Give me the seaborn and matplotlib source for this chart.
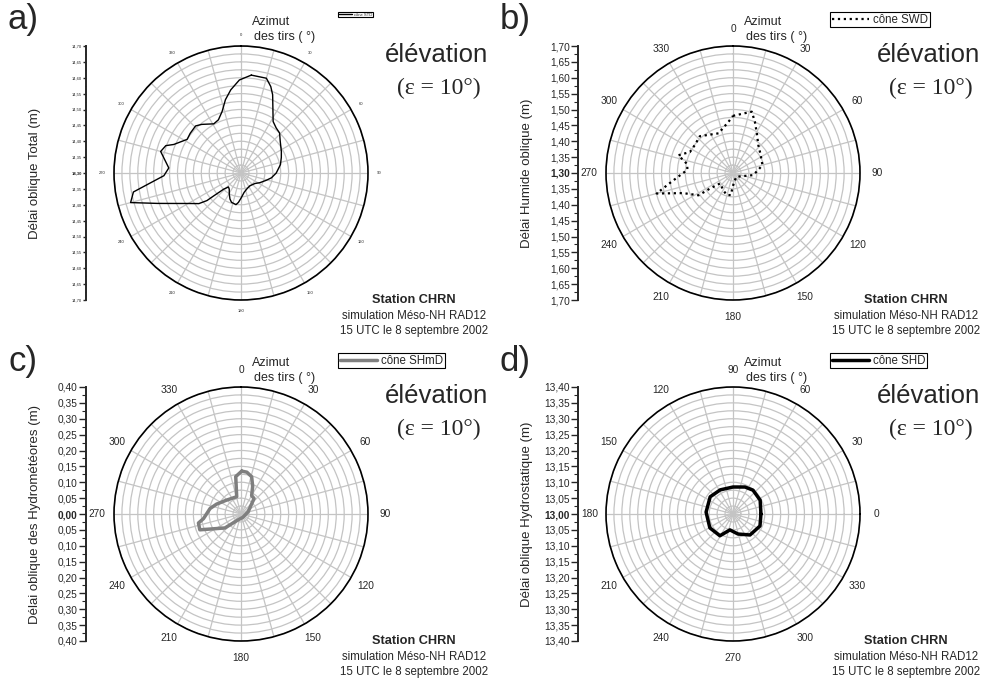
import numpy as np
import matplotlib
matplotlib.use("Agg")
import matplotlib.pyplot as plt
from matplotlib.ticker import FixedLocator
import seaborn as sns

az_total = [6, 15, 19, 22, 32, 38, 44, 51, 62, 69, 78, 90, 99, 106, 117, 127, 145, 161, 171, 179,
            185, 189, 198, 203, 209, 216, 222, 227, 230, 231, 234, 240, 245, 250, 255, 260, 263, 268, 274, 285,
            290, 293, 302, 308, 316, 321, 331, 337, 343, 348, 353, 359]
delay_total = [14.610, 14.609, 14.588, 14.566, 14.491, 14.480, 14.475, 14.459, 14.444, 14.436,
               14.427, 14.411, 14.397, 14.383, 14.367, 14.355, 14.349, 14.354, 14.362, 14.377,
               14.393, 14.401, 14.397, 14.389, 14.376, 14.363, 14.359, 14.375, 14.412, 14.438,
               14.464, 14.492, 14.527, 14.580, 14.660, 14.644, 14.597, 14.543, 14.528, 14.562,
               14.552, 14.530, 14.500, 14.503, 14.506, 14.497, 14.477, 14.482, 14.503, 14.536,
               14.564, 14.593]

az_swd = [0, 17, 23, 31, 42, 57, 75, 83, 96, 124, 135, 173, 186, 196, 210, 231, 236, 237, 248, 252,
          255, 262, 274, 281, 288, 296, 306, 318, 340, 355]
delay_swd = [1.480, 1.502, 1.476, 1.446, 1.419, 1.404, 1.396, 1.380, 1.364, 1.320,
             1.316, 1.328, 1.370, 1.372, 1.362, 1.352, 1.387, 1.429, 1.469, 1.507,
             1.549, 1.495, 1.444, 1.447, 1.481, 1.451, 1.449, 1.456, 1.433, 1.462]

az_shmd = [1, 8, 16, 23, 30, 40, 72, 150, 207, 229, 249, 258, 263, 280, 292, 314, 346, 352]
delay_shmd = [0.135, 0.133, 0.122, 0.094, 0.067, 0.064, 0.024, 0.012, 0.021, 0.067,
              0.139, 0.137, 0.119, 0.099, 0.083, 0.063, 0.056, 0.119]

az_shd = [0, 27, 50, 66, 90, 118, 143, 176, 211, 239, 259, 284, 309, 336]
delay_shd = [13.088, 13.096, 13.098, 13.093, 13.085, 13.086, 13.090, 13.085, 13.085, 13.080,
             13.051, 13.065, 13.085, 13.093]

angle_ticks = list(range(0, 360, 15))

sns.set_theme(style="ticks")
plt.rcParams['font.family'] = ['Liberation Sans', 'DejaVu Sans']

W, H = 982, 681
R = 127
fig = plt.figure(figsize=(W / 100, H / 100), dpi=100)


def ftext(x, y, s, **kw):
    fig.text(x / W, 1 - y / H, s, **kw)


def panel(cx, cy, letter, az, delay, base, ylabel, name, color, lw, ls, east=False, tiny=False):
    fs = 3 if tiny else 7.3
    ax = fig.add_axes([(cx - R) / W, 1 - (cy + R) / H, 2 * R / W, 2 * R / H], projection='polar')
    if east:
        ax.set_theta_zero_location('E')
        ax.set_theta_direction(1)
    else:
        ax.set_theta_zero_location('N')
        ax.set_theta_direction(-1)

    theta = np.deg2rad(np.append(az, az[0]))
    r = np.append(delay, delay[0])
    sns.lineplot(x=theta, y=r, sort=False, estimator=None, ax=ax,
                 color=color, lw=lw, linestyle=ls)

    ax.set_ylim(base, base + 0.40)
    ax.set_yticks(np.arange(base, base + 0.4001, 0.025))
    ax.set_yticklabels([])
    ax.set_xticks(np.deg2rad(angle_ticks))
    ax.set_xticklabels([str(a) if a % 30 == 0 else '' for a in angle_ticks], fontsize=fs)
    ax.tick_params(axis='x', direction='inout', length=1.5 if tiny else 6, width=0.8,
                   pad=0.5 if tiny else 2)
    ax.grid(True, color='#c4c4c4', lw=0.9)
    ax.spines['polar'].set_color('black')
    ax.spines['polar'].set_linewidth(1.2)
    ax.set_xlabel('')
    ax.set_ylabel('')

    leg = ax.legend([ax.lines[0]], [name], loc='upper left',
                    bbox_to_anchor=((cx + 97) / W, 1 - (cy - 161) / H),
                    bbox_transform=fig.transFigure, borderaxespad=0,
                    fontsize=3 if tiny else 8.3, fancybox=False, framealpha=1,
                    edgecolor='black', handlelength=3.2,
                    borderpad=0.15, handletextpad=0.4)
    leg.get_frame().set_linewidth(0.8)

    # mirrored radial scale on the left
    vax = fig.add_axes([(cx - 155) / W, 1 - (cy + R) / H, 0.0001, 2 * R / H])
    vax.set_ylim(-0.40, 0.40)
    major = np.round(np.arange(-0.40, 0.4001, 0.05), 3)
    vax.yaxis.set_major_locator(FixedLocator(major))
    vax.yaxis.set_minor_locator(FixedLocator(np.round(np.arange(-0.40, 0.4001, 0.025), 3)))
    labels = vax.set_yticklabels([f"{base + abs(v):.2f}".replace('.', ',') for v in major],
                                 fontsize=fs)
    labels[len(major) // 2].set_fontweight('bold')
    vax.set_xticks([])
    for s in ['top', 'right', 'bottom']:
        vax.spines[s].set_visible(False)
    vax.spines['left'].set_linewidth(1.4)
    vax.tick_params(axis='y', which='major', length=2 if tiny else 5, width=1, pad=1)
    vax.tick_params(axis='y', which='minor', length=1 if tiny else 3, width=0.8)
    vax.set_facecolor('none')

    ftext(cx - 206, cy, ylabel, rotation=90, ha='center', va='center', fontsize=9.5)
    ftext(cx - 218, cy - 153, letter, ha='center', va='center', fontsize=25)
    ftext(cx + 30, cy - 151, 'Azimut', ha='center', va='center', fontsize=9)
    ftext(cx + 13, cy - 136, 'des tirs ( °)', ha='left', va='center', fontsize=9)
    ftext(cx + 196, cy - 118, 'élévation', ha='center', va='center', fontsize=18.5)
    ftext(cx + 198, cy - 85, '(ε = 10°)', ha='center', va='center', fontsize=17,
          family=['Liberation Serif', 'DejaVu Serif'])
    ftext(cx + 173, cy + 127, 'Station CHRN', ha='center', va='center', fontsize=9.2,
          fontweight='bold')
    ftext(cx + 173, cy + 143, 'simulation Méso-NH RAD12', ha='center', va='center', fontsize=8.3)
    ftext(cx + 173, cy + 158, '15 UTC le 8 septembre 2002', ha='center', va='center', fontsize=8.3)


panel(241, 173, 'a)', az_total, delay_total, 14.30, 'Délai oblique Total (m)', 'cône STD',
      'black', 1.0, '-', tiny=True)
panel(733, 173, 'b)', az_swd, delay_swd, 1.30, 'Délai Humide oblique (m)', 'cône SWD',
      'black', 1.6, ':')
panel(241, 514, 'c)', az_shmd, delay_shmd, 0.00, 'Délai oblique des Hydrométéores (m)', 'cône SHmD',
      '#7f7f7f', 2.5, '-')
panel(733, 514, 'd)', az_shd, delay_shd, 13.00, 'Délai oblique Hydrostatique (m)', 'cône SHD',
      'black', 2.5, '-', east=True)

fig.savefig('out.png', dpi=100)
